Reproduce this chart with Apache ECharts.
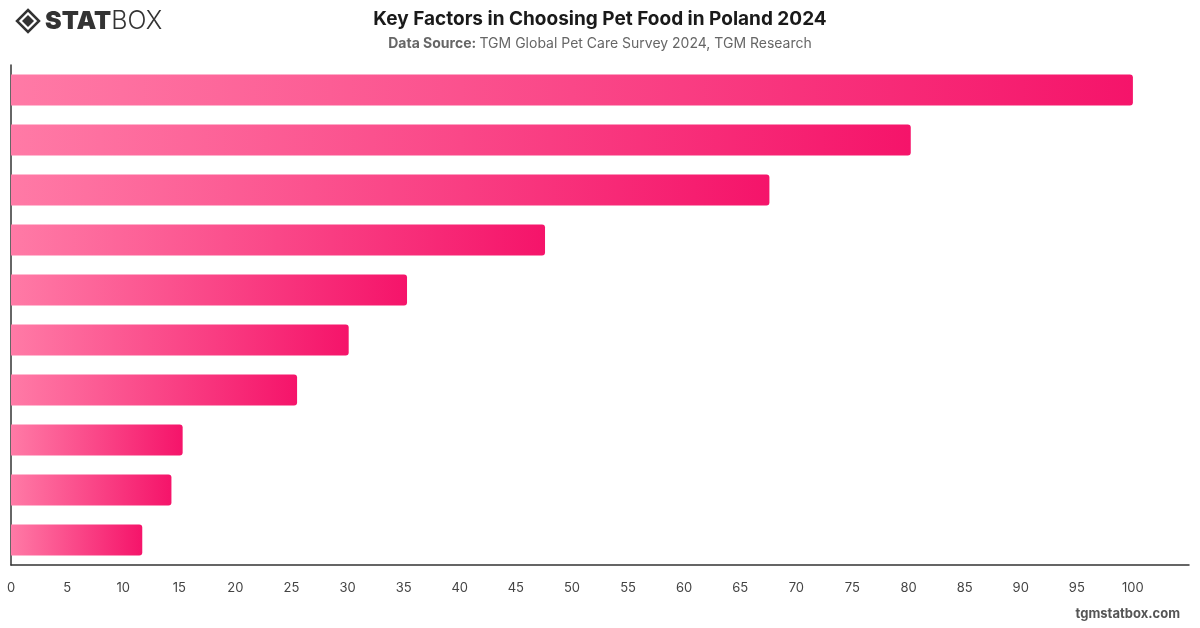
<!DOCTYPE html>
<html>
<head>
<meta charset="utf-8">
<script src="https://cdn.jsdelivr.net/npm/echarts@6/dist/echarts.min.js"></script>
<style>
html, body { margin: 0; padding: 0; background: #fff; }
#chart { width: 1200px; height: 628px; }
</style>
</head>
<body>
<div id="chart"></div>
<script>
// categories are not printed on the chart, so keep generic names (top to bottom)
var categories = ['Factor 1', 'Factor 2', 'Factor 3', 'Factor 4', 'Factor 5',
                  'Factor 6', 'Factor 7', 'Factor 8', 'Factor 9', 'Factor 10'];
var values = [100, 80.2, 67.6, 47.6, 35.3, 30.1, 25.5, 15.3, 14.3, 11.7];
var xTicks = [0, 5, 10, 15, 20, 25, 30, 35, 40, 45, 50, 55, 60, 65, 70, 75, 80, 85, 90, 95, 100];

var font = 'Inter, "Noto Sans", sans-serif';

var myChart = echarts.init(document.getElementById('chart'));

var option = {
    animation: false,
    title: {
        text: 'Key Factors in Choosing Pet Food in Poland 2024',
        left: 'center',
        top: 5,
        textStyle: { fontFamily: font, fontSize: 19, fontWeight: 'bold', color: '#1a1a1a' }
    },
    graphic: [
        {
            type: 'text', left: 'center', top: 37,
            style: {
                rich: {
                    b: { fontFamily: font, fontSize: 14, fontWeight: 'bold', fill: '#666' },
                    n: { fontFamily: font, fontSize: 14, fill: '#666' }
                },
                text: '{b|Data Source:} {n|TGM Global Pet Care Survey 2024, TGM Research}'
            }
        },
        // logo diamond
        { type: 'polygon', shape: { points: [[28, 10], [39, 21], [28, 32], [17, 21]] },
          style: { fill: 'none', stroke: '#333', lineWidth: 2.5 } },
        { type: 'polygon', shape: { points: [[28, 15], [34, 21], [28, 27], [22, 21]] },
          style: { fill: '#333' } },
        {
            type: 'text', left: 45, top: 9,
            style: {
                rich: {
                    s: { fontFamily: font, fontSize: 25, fontWeight: 900, fill: '#333' },
                    t: { fontFamily: font, fontSize: 25, fontWeight: 300, fill: '#333' }
                },
                text: '{s|STAT}{t|BOX}'
            }
        },
        {
            type: 'text', right: 20, top: 608,
            style: { text: 'tgmstatbox.com', fontFamily: font, fontSize: 13, fontWeight: 'bold', fill: '#555' }
        }
    ],
    grid: { left: 11, right: 11, top: 65, bottom: 63, containLabel: false },
    xAxis: {
        type: 'value',
        min: 0,
        max: 105,
        interval: 5,
        axisLine: { show: true, lineStyle: { color: '#333', width: 1.5 } },
        axisTick: { show: false },
        splitLine: { show: false },
        axisLabel: {
            margin: 17,
            fontFamily: font, fontSize: 13, color: '#444',
            formatter: function (v) { return xTicks.indexOf(v) >= 0 ? String(v) : ''; }
        }
    },
    yAxis: {
        type: 'category',
        data: categories,
        inverse: true,
        axisLine: { show: true, lineStyle: { color: '#333', width: 1.5 } },
        axisTick: { show: false },
        axisLabel: { show: false }
    },
    series: [{
        type: 'bar',
        data: values,
        barWidth: 31,
        itemStyle: {
            borderRadius: [0, 3, 3, 0],
            color: new echarts.graphic.LinearGradient(0, 0, 1, 0, [
                { offset: 0, color: '#ff7aa6' },
                { offset: 1, color: '#f5146a' }
            ])
        }
    }]
};

myChart.setOption(option);
</script>
</body>
</html>
